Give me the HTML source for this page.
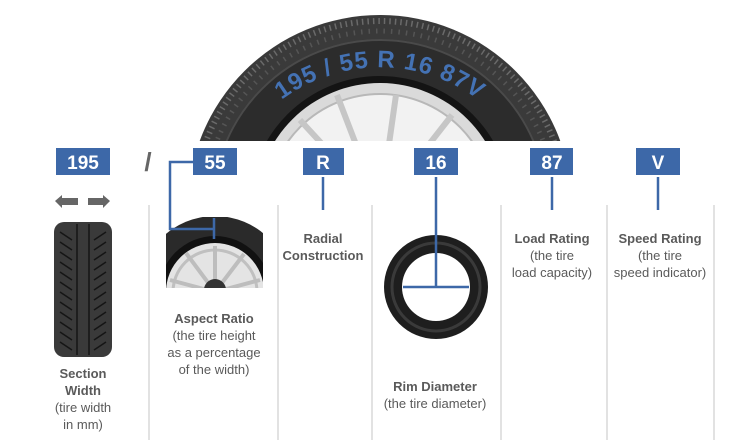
<!DOCTYPE html>
<html><head><meta charset="utf-8"><style>
html,body{margin:0;padding:0;background:#fff;}
svg{display:block}
text{font-family:"Liberation Sans",Arial,sans-serif;}
.b{font-weight:bold;font-size:13px;fill:#5a5a5a;text-anchor:middle}
.n{font-size:13px;fill:#5a5a5a;text-anchor:middle}
.bx{fill:#3d68a8}
.bt{font-weight:bold;font-size:19px;fill:#fff;text-anchor:middle}
.dv{stroke:#d8d8d8;stroke-width:1.5}
.cn{stroke:#3d68a8;stroke-width:2.5;fill:none}
</style></head><body>
<svg width="740" height="440" viewBox="0 0 740 440" xmlns="http://www.w3.org/2000/svg">
<defs>
<clipPath id="top"><rect x="0" y="0" width="740" height="141"/></clipPath>
<clipPath id="asp"><rect x="166" y="217" width="97" height="71"/></clipPath>
<path id="arc" d="M 237 150 A 165 165 0 0 1 523 150"/>
</defs>
<!-- big tire -->
<g clip-path="url(#top)">
<circle cx="380" cy="207" r="192" fill="#3a3a3a"/>
<circle cx="380" cy="207" r="186" fill="none" stroke="#6a6a6a" stroke-width="6" stroke-dasharray="1.5 4"/>
<circle cx="380" cy="207" r="176" fill="none" stroke="#555" stroke-width="5" stroke-dasharray="1.5 6"/>
<circle cx="380" cy="207" r="168" fill="#2c2c2c"/>
<circle cx="380" cy="207" r="167" fill="none" stroke="#4a4a4a" stroke-width="2"/>
<circle cx="380" cy="207" r="131" fill="#141414"/>
<circle cx="380" cy="207" r="124" fill="#dadada"/>
<circle cx="380" cy="207" r="113" fill="#f2f2f2" stroke="#b8b8b8" stroke-width="2"/>
<g stroke="#c6c6c6" stroke-width="6">
<line x1="380" y1="207" x2="300" y2="120"/><line x1="380" y1="207" x2="337" y2="95"/>
<line x1="380" y1="207" x2="396" y2="95"/><line x1="380" y1="207" x2="452" y2="115"/>
<line x1="380" y1="207" x2="482" y2="150"/><line x1="380" y1="207" x2="275" y2="160"/>
</g>
<text font-weight="bold" font-size="24" fill="#4472b4" letter-spacing="1" text-anchor="middle"><textPath href="#arc" startOffset="50%">195 / 55 R 16 87V</textPath></text>
</g>
<!-- boxes -->
<rect class="bx" x="56" y="148" width="54" height="27"/><text class="bt" x="83" y="169">195</text>
<text x="148" y="171" font-size="26" font-weight="bold" fill="#666" text-anchor="middle">/</text>
<rect class="bx" x="193" y="148" width="44" height="27"/><text class="bt" x="215" y="169">55</text>
<rect class="bx" x="303" y="148" width="41" height="27"/><text class="bt" x="323" y="169">R</text>
<rect class="bx" x="414" y="148" width="44" height="27"/><text class="bt" x="436" y="169">16</text>
<rect class="bx" x="530" y="148" width="43" height="27"/><text class="bt" x="552" y="169">87</text>
<rect class="bx" x="636" y="148" width="44" height="27"/><text class="bt" x="658" y="169">V</text>
<!-- dividers -->
<g class="dv"><line x1="149" y1="205" x2="149" y2="440"/><line x1="278" y1="205" x2="278" y2="440"/><line x1="372" y1="205" x2="372" y2="440"/><line x1="501" y1="205" x2="501" y2="440"/><line x1="607" y1="205" x2="607" y2="440"/><line x1="714" y1="205" x2="714" y2="440"/></g>
<!-- arrows -->
<polygon points="55,201 62,195 62,198 78,198 78,205 62,205 62,208" fill="#666"/>
<polygon points="110,201 103,195 103,198 88,198 88,205 103,205 103,208" fill="#666"/>
<!-- section tire -->
<rect x="54" y="222" width="58" height="135" rx="10" fill="#3a3a3a"/>
<g stroke="#151515" stroke-width="1.5" fill="none">
<path d="M60 232 L72 240 M60 242 L72 250 M60 252 L72 260 M60 262 L72 270 M60 272 L72 280 M60 282 L72 290 M60 292 L72 300 M60 302 L72 310 M60 312 L72 320 M60 322 L72 330 M60 332 L72 340 M60 342 L72 350"/>
<path d="M106 232 L94 240 M106 242 L94 250 M106 252 L94 260 M106 262 L94 270 M106 272 L94 280 M106 282 L94 290 M106 292 L94 300 M106 302 L94 310 M106 312 L94 320 M106 322 L94 330 M106 332 L94 340 M106 342 L94 350"/>
<line x1="77" y1="224" x2="77" y2="355"/><line x1="89" y1="224" x2="89" y2="355"/>
</g>
<!-- aspect image -->
<g clip-path="url(#asp)">
<circle cx="215" cy="292" r="76" fill="#2a2a2a"/>
<circle cx="215" cy="292" r="56" fill="#111"/>
<circle cx="215" cy="292" r="49" fill="#e4e4e4"/>
<circle cx="215" cy="292" r="42" fill="none" stroke="#c0c0c0" stroke-width="3"/>
<g stroke="#bdbdbd" stroke-width="4"><line x1="215" y1="292" x2="186" y2="253"/><line x1="215" y1="292" x2="215" y2="246"/><line x1="215" y1="292" x2="244" y2="254"/><line x1="215" y1="292" x2="260" y2="280"/><line x1="215" y1="292" x2="170" y2="280"/></g>
<circle cx="215" cy="290" r="11" fill="#333"/>
</g>
<!-- rim tire -->
<circle cx="436" cy="287" r="52" fill="#1e1e1e"/>
<circle cx="436" cy="287" r="44" fill="none" stroke="#3a3a3a" stroke-width="3"/>
<circle cx="436" cy="287" r="34" fill="#fff"/>
<!-- connectors -->
<path class="cn" d="M193 162 H170 V229 H214"/>
<line class="cn" x1="214" y1="218" x2="214" y2="239"/>
<line class="cn" x1="323" y1="177" x2="323" y2="210"/>
<line class="cn" x1="436" y1="177" x2="436" y2="287"/>
<line class="cn" x1="403" y1="287" x2="469" y2="287"/>
<line class="cn" x1="552" y1="177" x2="552" y2="210"/>
<line class="cn" x1="658" y1="177" x2="658" y2="210"/>
<!-- labels -->
<text class="b" x="323" y="243">Radial</text><text class="b" x="323" y="260">Construction</text>
<text class="b" x="214" y="323">Aspect Ratio</text>
<text class="n" x="214" y="340">(the tire height</text><text class="n" x="214" y="357">as a percentage</text><text class="n" x="214" y="374">of the width)</text>
<text class="b" x="83" y="378">Section</text><text class="b" x="83" y="395">Width</text>
<text class="n" x="83" y="412">(tire width</text><text class="n" x="83" y="429">in mm)</text>
<text class="b" x="435" y="391">Rim Diameter</text><text class="n" x="435" y="408">(the tire diameter)</text>
<text class="b" x="552" y="243">Load Rating</text><text class="n" x="552" y="260">(the tire</text><text class="n" x="552" y="277">load capacity)</text>
<text class="b" x="660" y="243">Speed Rating</text><text class="n" x="660" y="260">(the tire</text><text class="n" x="660" y="277">speed indicator)</text>
</svg>
</body></html>
